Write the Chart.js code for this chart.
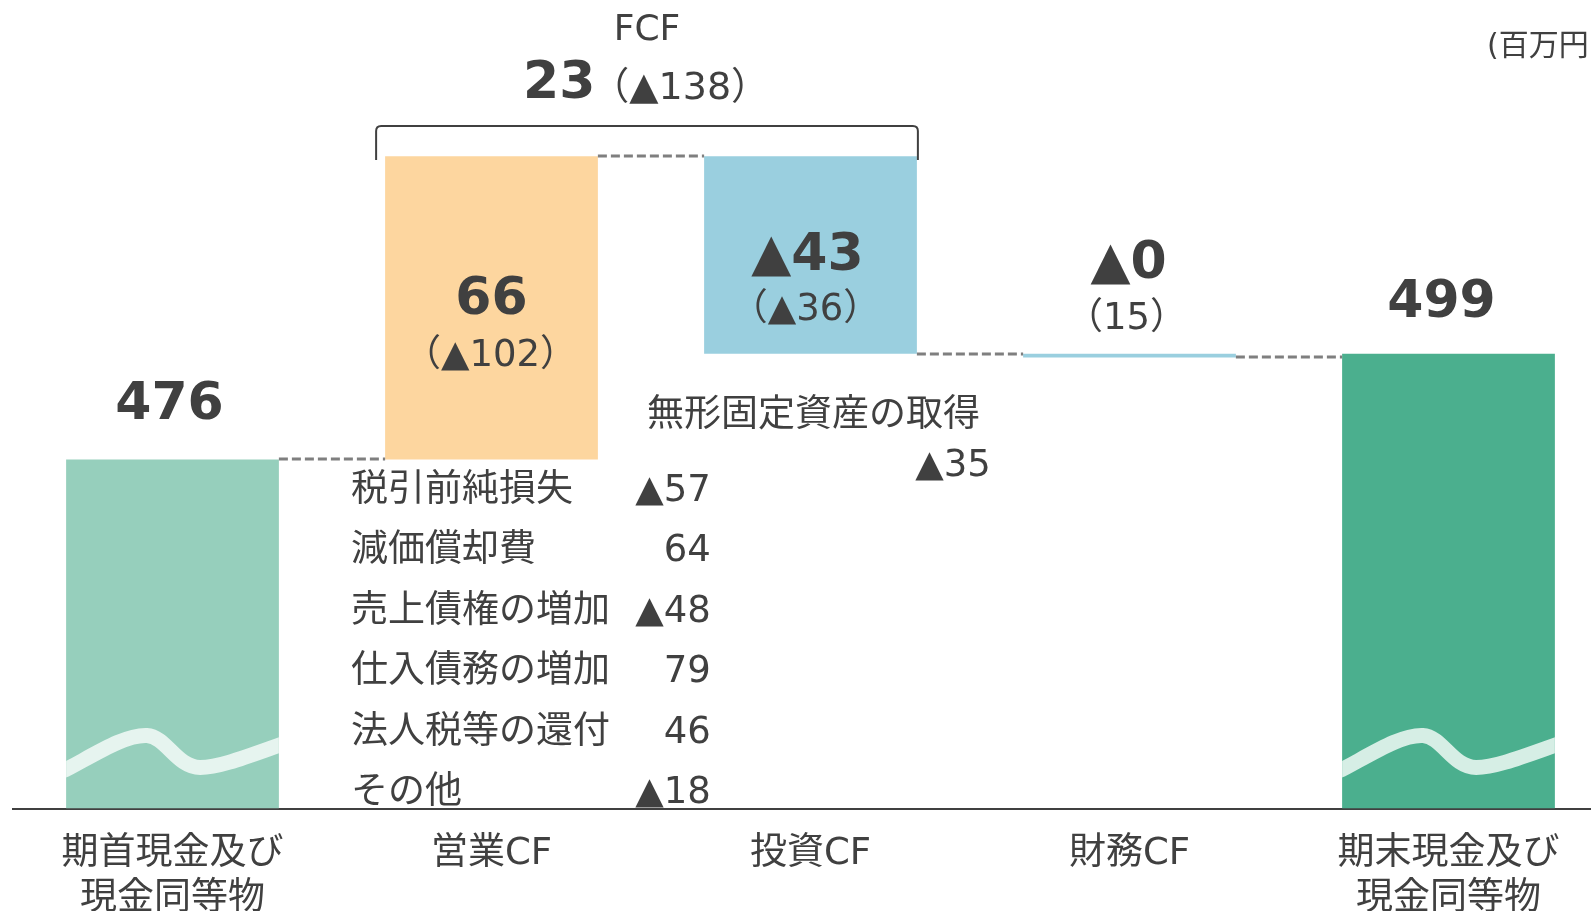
<!DOCTYPE html>
<html>
<head>
<meta charset="utf-8">
<script src="https://cdn.jsdelivr.net/npm/chart.js@4"></script>
<style>
  html, body { margin: 0; padding: 0; background: #fff; overflow: hidden; }
  #wrap { width: 1591px; height: 911px; overflow: hidden; position: relative; }
  canvas { display: block; }
</style>
</head>
<body>
<div id="wrap"><canvas id="cfChart" width="1620" height="911"></canvas></div>
<script>
// data (百万円)
const categories = [['期首現金及び', '現金同等物'], '営業CF', '投資CF', '財務CF', ['期末現金及び', '現金同等物']];
const openingCash = 476;
const cashFlows = [66, -43, -0.8];          // 営業CF, 投資CF, 財務CF
const closingCash = 499;
const mainLabels = ['476', '66', '▲43', '▲0', '499'];
const prevLabels = ['', '（▲102）', '（▲36）', '（15）', ''];
const fcfValue = '23';
const fcfPrev = '（▲138）';
const opsItems = ['税引前純損失', '減価償却費', '売上債権の増加', '仕入債務の増加', '法人税等の還付', 'その他'];
const opsItemValues = ['▲57', '64', '▲48', '79', '46', '▲18'];
const invItems = ['無形固定資産の取得'];
const invItemValues = ['▲35'];

const yMin = 400;
const fontFamily = '"DejaVu Sans", "Noto Sans CJK JP", sans-serif';
const textColor = '#404040';

// build floating bars
const barData = [];
let running = openingCash;
barData.push([yMin, openingCash]);
cashFlows.forEach(v => {
    barData.push([running, running + v]);
    running += v;
});
barData.push([yMin, closingCash]);

const barColors = ['#96cfbc', '#fdd69f', '#9acfdf', '#9acfdf', '#4baf8e'];
const waveColors = { 0: '#e6f4ef', 4: '#d6eee5' };

// label offsets from the top of each bar
const mainOffsets = [[-3, -54], [0, 144], [-3, 100], [-1, -89], [-7, -50]];
const prevOffsets = [[0, 0], [-1, 200], [-5, 154], [-3, -34], [0, 0]];

function txt(c, s, x, y, size, weight, align) {
    c.font = (weight || 'normal') + ' ' + size + 'px ' + fontFamily;
    c.textAlign = align || 'center';
    c.textBaseline = 'middle';
    c.fillText(s, x, y);
}

const annotationPlugin = {
    id: 'cfAnnotations',
    afterDatasetsDraw(chart) {
        const c = chart.ctx;
        const bars = chart.getDatasetMeta(0).data;
        const ys = chart.scales.y;

        // waves on the cash bars
        [0, 4].forEach(i => {
            const b = bars[i];
            const L = b.x - b.width / 2, W = b.width, B = b.base;
            c.save();
            c.beginPath();
            c.rect(L, b.y, W, B - b.y);
            c.clip();
            c.strokeStyle = waveColors[i];
            c.lineWidth = 15;
            c.beginPath();
            c.moveTo(L - 5, B - 37);
            c.lineTo(L, B - 39);
            c.bezierCurveTo(L + 0.15 * W, B - 56, L + 0.28 * W, B - 74, L + 0.38 * W, B - 73);
            c.bezierCurveTo(L + 0.47 * W, B - 72, L + 0.52 * W, B - 41, L + 0.63 * W, B - 41);
            c.bezierCurveTo(L + 0.72 * W, B - 41, L + 0.85 * W, B - 52, L + W + 5, B - 65);
            c.stroke();
            c.restore();
        });

        // dashed connectors
        c.save();
        c.strokeStyle = '#7f7f7f';
        c.lineWidth = 3;
        c.setLineDash([9, 4]);
        for (let i = 0; i < bars.length - 1; i++) {
            const a = bars[i], b = bars[i + 1];
            const lvl = Math.round(ys.getPixelForValue(barData[i][1]));
            c.beginPath();
            c.moveTo(a.x + a.width / 2, lvl);
            c.lineTo(b.x - b.width / 2, lvl);
            c.stroke();
        }
        c.restore();

        c.save();
        c.fillStyle = textColor;

        // values
        bars.forEach((b, i) => {
            const top = Math.min(b.y, b.base);
            txt(c, mainLabels[i], b.x + mainOffsets[i][0], top + mainOffsets[i][1], 52, 'bold');
            if (prevLabels[i]) {
                txt(c, prevLabels[i], b.x + prevOffsets[i][0], top + prevOffsets[i][1], 37);
            }
        });

        // 営業CF breakdown
        const ops = bars[1];
        const opsLeft = ops.x - ops.width / 2 - 34;
        const opsRight = ops.x + ops.width / 2 + 113;
        const opsTop = ops.base + 32;
        opsItems.forEach((s, i) => {
            txt(c, s, opsLeft, opsTop + i * 60.4, 37, 'normal', 'left');
            txt(c, opsItemValues[i], opsRight, opsTop + i * 60.4, 37, 'normal', 'right');
        });

        // 投資CF breakdown
        const inv = bars[2];
        const invBottom = Math.max(inv.y, inv.base);
        invItems.forEach((s, i) => {
            txt(c, s, inv.x - inv.width / 2 - 57, invBottom + 63, 37, 'normal', 'left');
            txt(c, invItemValues[i], inv.x + inv.width / 2 + 74, invBottom + 113, 37, 'normal', 'right');
        });

        // FCF bracket
        const bl = ops.x - ops.width / 2 - 9;
        const br = inv.x + inv.width / 2 + 1;
        const bt = 126, bb = 160;
        c.strokeStyle = textColor;
        c.lineWidth = 2;
        c.beginPath();
        c.moveTo(bl, bb);
        c.lineTo(bl, bt + 5);
        c.quadraticCurveTo(bl, bt, bl + 5, bt);
        c.lineTo(br - 5, bt);
        c.quadraticCurveTo(br, bt, br, bt + 5);
        c.lineTo(br, bb);
        c.stroke();

        const mid = (bl + br) / 2;
        txt(c, 'FCF', mid, 31, 36);
        c.font = 'bold 52px ' + fontFamily;
        const w1 = c.measureText(fcfValue).width;
        const start = 523;
        txt(c, fcfValue, start, 84, 52, 'bold', 'left');
        txt(c, fcfPrev, start + w1 - 4, 89, 38, 'normal', 'left');

        // unit
        txt(c, '(百万円)', 1487, 47, 30, 'normal', 'left');
        c.restore();
    }
};

const ctx = document.getElementById('cfChart').getContext('2d');
const cfChart = new Chart(ctx, {
    type: 'bar',
    data: {
        labels: categories,
        datasets: [{
            data: barData,
            backgroundColor: barColors,
            borderWidth: 0,
            barPercentage: 0.667,
            categoryPercentage: 1
        }]
    },
    options: {
        responsive: false,
        animation: false,
        layout: { padding: { left: 13, right: 12, top: 0, bottom: 0 } },
        plugins: {
            legend: { display: false },
            tooltip: { enabled: false }
        },
        scales: {
            x: {
                grid: { display: false, drawTicks: false },
                border: { display: true, color: '#404040', width: 2 },
                ticks: {
                    color: textColor,
                    font: { family: fontFamily, size: 37, lineHeight: 1.216 },
                    padding: 23,
                    maxRotation: 0,
                    autoSkip: false
                },
                afterFit: function (scale) {
                    scale.height = 102.5;
                }
            },
            y: {
                display: false,
                min: yMin,
                max: 576
            }
        }
    },
    plugins: [annotationPlugin]
});
</script>
</body>
</html>
